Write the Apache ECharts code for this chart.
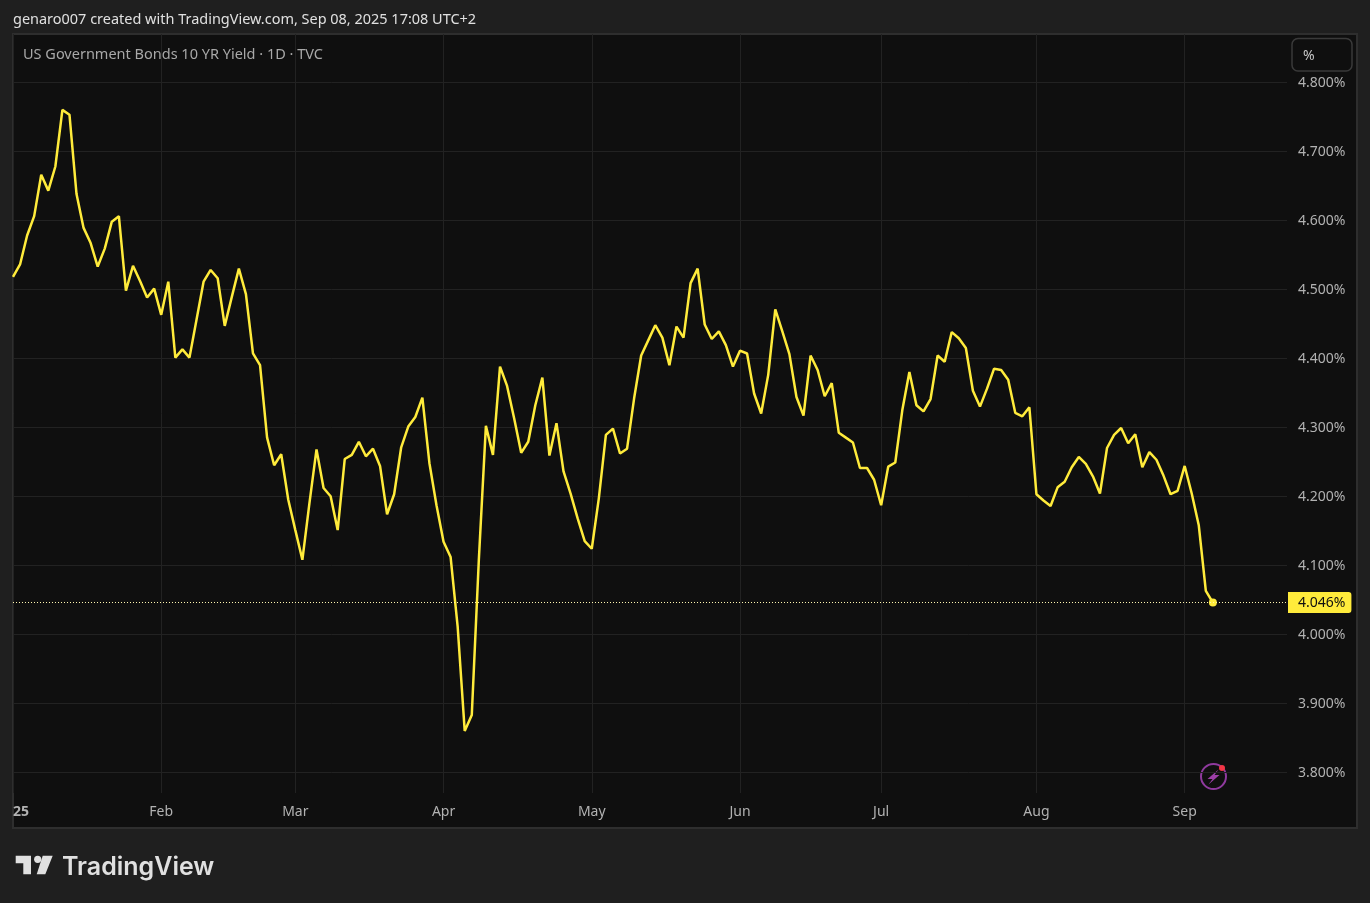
<!DOCTYPE html>
<html>
<head>
<meta charset="utf-8">
<title>US Government Bonds 10 YR Yield</title>
<style>
  html, body { margin: 0; padding: 0; background: #1f1f1f; }
  #chart { width: 1370px; height: 903px; }
</style>
<script src="https://cdn.jsdelivr.net/npm/echarts@6/dist/echarts.min.js"></script>
</head>
<body>
<div id="chart"></div>
<script>
// daily closes, one per trading day from the start of the year
const yields = [
  4.518, 4.536, 4.578, 4.606, 4.666, 4.643, 4.678, 4.760, 4.753, 4.638,
  4.589, 4.567, 4.533, 4.559, 4.598, 4.606, 4.498, 4.534, 4.512, 4.488,
  4.501, 4.463, 4.511, 4.401, 4.413, 4.401, 4.456, 4.511, 4.528, 4.516,
  4.447, 4.489, 4.530, 4.493, 4.407, 4.390, 4.285, 4.245, 4.261, 4.195,
  4.151, 4.108, 4.190, 4.268, 4.212, 4.200, 4.151, 4.254, 4.260, 4.279,
  4.258, 4.269, 4.244, 4.174, 4.203, 4.271, 4.301, 4.315, 4.343, 4.248,
  4.187, 4.134, 4.112, 4.011, 3.860, 3.883, 4.108, 4.302, 4.260, 4.388,
  4.360, 4.313, 4.263, 4.279, 4.332, 4.372, 4.259, 4.306, 4.236, 4.204,
  4.168, 4.135, 4.124, 4.197, 4.289, 4.298, 4.262, 4.269, 4.342, 4.404,
  4.426, 4.448, 4.430, 4.390, 4.446, 4.430, 4.509, 4.530, 4.449, 4.428,
  4.439, 4.419, 4.388, 4.411, 4.407, 4.349, 4.320, 4.376, 4.471, 4.439,
  4.406, 4.344, 4.317, 4.404, 4.383, 4.345, 4.364, 4.292, 4.285, 4.278,
  4.241, 4.241, 4.224, 4.187, 4.243, 4.249, 4.325, 4.380, 4.332, 4.323,
  4.341, 4.404, 4.395, 4.438, 4.429, 4.415, 4.353, 4.330, 4.356, 4.385,
  4.383, 4.369, 4.321, 4.316, 4.329, 4.203, 4.194, 4.186, 4.213, 4.221,
  4.242, 4.257, 4.247, 4.229, 4.204, 4.270, 4.289, 4.299, 4.277, 4.290,
  4.242, 4.264, 4.253, 4.230, 4.203, 4.208, 4.244, 4.204, 4.158, 4.063,
  4.046
];

// trading day number of each month start, and its label
const monthDays = [0, 21, 40, 61, 82, 103, 123, 145, 166];
const monthNames = ['25', 'Feb', 'Mar', 'Apr', 'May', 'Jun', 'Jul', 'Aug', 'Sep'];
const yTicks = [3.8, 3.9, 4.0, 4.1, 4.2, 4.3, 4.4, 4.5, 4.6, 4.7, 4.8];

const yellow = '#ffeb3b';
const labelColor = '#b2b2b2';
const gridColor = '#222222';
const font = '"Noto Sans", sans-serif';

const lastDay = yields.length - 1;
const lastYield = yields[lastDay];

const chart = echarts.init(document.getElementById('chart'));
chart.setOption({
  animation: false,
  backgroundColor: '#1f1f1f',
  textStyle: { fontFamily: font },
  grid: { left: 13, top: 34, width: 1274, height: 759 },
  xAxis: {
    type: 'value',
    min: 0,
    max: 180.5,
    axisLine: { show: false },
    axisTick: { show: false, customValues: monthDays },
    splitLine: { show: true, lineStyle: { color: gridColor, width: 1 } },
    axisLabel: {
      customValues: monthDays,
      alignMinLabel: 'left',
      margin: 12,
      color: labelColor,
      fontSize: 14,
      fontFamily: font,
      formatter: function (v) {
        const name = monthNames[monthDays.indexOf(v)];
        return v === 0 ? '{year|' + name + '}' : name;
      },
      rich: { year: { fontWeight: 'bold', fontSize: 14, color: labelColor, fontFamily: font } }
    }
  },
  yAxis: {
    type: 'value',
    position: 'right',
    min: 3.77,
    max: 4.87,
    axisLine: { show: false },
    axisTick: { show: false, customValues: yTicks },
    splitLine: { show: true, lineStyle: { color: gridColor, width: 1 } },
    axisLabel: {
      customValues: yTicks,
      margin: 11,
      color: labelColor,
      fontSize: 14,
      fontFamily: font,
      formatter: function (v) { return '{v|' + v.toFixed(3) + '%}'; },
      rich: { v: { padding: [2, 0, 0, 0], fontSize: 14, color: labelColor, fontFamily: font } }
    }
  },
  series: [
    {
      type: 'line',
      data: yields.map(function (v, i) { return [i, v]; }),
      symbol: 'none',
      lineStyle: { color: yellow, width: 2.5 },
      markLine: {
        silent: true,
        symbol: 'none',
        precision: 3,
        data: [{ yAxis: lastYield }],
        lineStyle: { color: '#fff6b0', width: 1, type: [1, 2], opacity: 1 },
        label: {
          position: 'end',
          distance: 1,
          formatter: lastYield.toFixed(3) + '%',
          color: '#0f0f0f',
          fontSize: 14,
          fontFamily: font,
          backgroundColor: yellow,
          padding: [4, 6, 3, 10],
          borderRadius: [0, 3, 3, 0]
        }
      }
    },
    {
      type: 'scatter',
      data: [[lastDay, lastYield]],
      symbol: 'circle',
      symbolSize: 8,
      itemStyle: { color: yellow, opacity: 1 },
      silent: true
    }
  ],
  graphic: [
    // chart panel
    { type: 'rect', z: -10, shape: { x: 13, y: 34, width: 1344, height: 794 },
      style: { fill: '#0f0f0f', stroke: '#2e2e2e', lineWidth: 2 } },
    // header and symbol line
    { type: 'text', left: 13, top: 13, style: { text: 'genaro007 created with TradingView.com, Sep 08, 2025 17:08 UTC+2',
      fill: '#e0e0e0', font: '14.47px ' + font } },
    { type: 'text', left: 23, top: 47, style: { text: 'US Government Bonds 10 YR Yield · 1D · TVC',
      fill: '#a8a8a8', font: '14.5px ' + font } },
    // % button
    { type: 'rect', shape: { x: 1292, y: 38.5, width: 60, height: 32.5, r: 6 },
      style: { fill: '#0f0f0f', stroke: '#3a3a3a', lineWidth: 1.5 } },
    { type: 'text', left: 1303, top: 49, style: { text: '%', fill: '#c8c8c8', font: '14px ' + font } },
    // lightning badge
    { type: 'circle', shape: { cx: 1213.5, cy: 776.5, r: 12.5 },
      style: { fill: 'none', stroke: '#8f3a9e', lineWidth: 2 } },
    { type: 'polygon', shape: { points: [[1218.5, 769.5], [1207.5, 779], [1212.5, 779], [1208.5, 784.5], [1219.5, 775], [1214.5, 775]] },
      style: { fill: '#9c3fa8' } },
    { type: 'circle', shape: { cx: 1222, cy: 768, r: 3 }, style: { fill: '#f23645' } },
    // TradingView logo
    { type: 'polygon', shape: { points: [[15.7, 855.7], [31, 855.7], [31, 874.3], [23.3, 874.3], [23.3, 863.3], [15.7, 863.3]] },
      style: { fill: '#e0e0e0' } },
    { type: 'circle', shape: { cx: 37.7, cy: 859.3, r: 3.6 }, style: { fill: '#e0e0e0' } },
    { type: 'polygon', shape: { points: [[42.7, 855.7], [52.7, 855.7], [45.3, 874.3], [36.7, 874.3]] },
      style: { fill: '#e0e0e0' } },
    { type: 'text', left: 62, top: 855, style: { text: 'TradingView', fill: '#e0e0e0',
      font: '600 25px Inter, sans-serif' } }
  ]
});
</script>
</body>
</html>
